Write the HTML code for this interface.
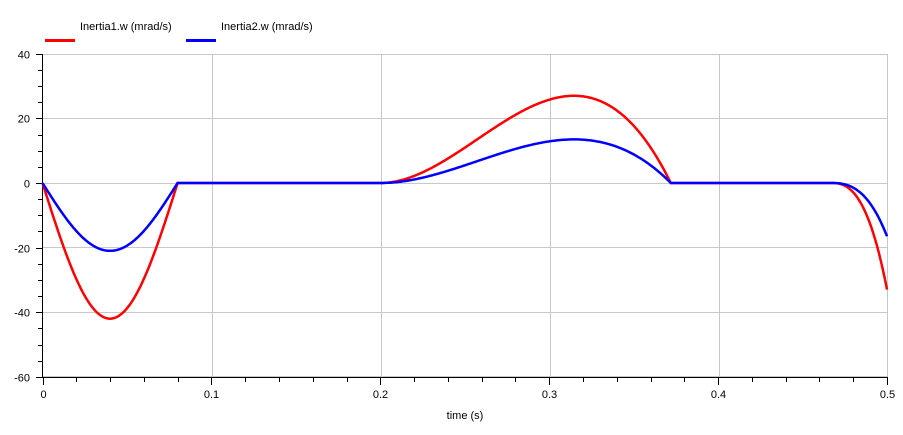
<!DOCTYPE html>
<html><head><meta charset="utf-8"><style>
body{margin:0;background:#fff;width:903px;height:430px;overflow:hidden}
text{font-family:"Liberation Sans","Noto Sans CJK JP",sans-serif;font-size:11px;fill:#000}
</style></head><body>
<svg id="s" width="903" height="430" xmlns="http://www.w3.org/2000/svg">
<g stroke="#c8c8c8" stroke-width="1">
<line x1="43" y1="54.5" x2="887" y2="54.5"/><line x1="43" y1="118.5" x2="887" y2="118.5"/><line x1="43" y1="183.5" x2="887" y2="183.5"/><line x1="43" y1="247.5" x2="887" y2="247.5"/><line x1="43" y1="312.5" x2="887" y2="312.5"/><line x1="43" y1="376.5" x2="887" y2="376.5"/>
<line x1="212.5" y1="54" x2="212.5" y2="377"/><line x1="381.5" y1="54" x2="381.5" y2="377"/><line x1="550.5" y1="54" x2="550.5" y2="377"/><line x1="719.5" y1="54" x2="719.5" y2="377"/><line x1="887.5" y1="54" x2="887.5" y2="377"/>
</g>
<g id="ax" stroke="#000" stroke-width="1"></g>
<g id="lbl"></g>
<line x1="45" y1="40.5" x2="75" y2="40.5" stroke="#f00" stroke-width="3"/>
<line x1="186" y1="40.5" x2="216" y2="40.5" stroke="#00f" stroke-width="3"/>
<text x="80" y="30">Inertia1.w (mrad/s)</text>
<text x="221" y="30">Inertia2.w (mrad/s)</text>
<text x="465" y="419" text-anchor="middle" font-size="12">time (s)</text>
<path id="r" fill="none" stroke="#f00" stroke-width="2.5"/>
<path id="b" fill="none" stroke="#00f" stroke-width="2.5"/>
</svg>
<script>
var X=t=>42.5+t*1689,Y=v=>183-v*3.23;
var ax=document.getElementById('ax'),lb=document.getElementById('lbl'),h='',l='';
h+='<line x1="42.5" y1="54" x2="42.5" y2="377"/><line x1="42" y1="377.5" x2="888" y2="377.5"/>';
for(var v=-60;v<=40;v+=5){var y=Math.round(Y(v))+0.5;h+='<line x1="'+(v%20==0?36:38)+'" y1="'+y+'" x2="42" y2="'+y+'"/>';if(v%20==0)l+='<text x="30" y="'+(y+4)+'" text-anchor="end">'+v+'</text>';}
for(var i=0;i<=25;i++){var x=Math.round(X(i*0.02))+0.5;h+='<line x1="'+x+'" y1="378" x2="'+x+'" y2="'+(i%5==0?385:382)+'"/>';if(i%5==0)l+='<text x="'+x+'" y="398" text-anchor="middle">'+(i==0?'0':i==25?'0.5':(i*0.02).toFixed(1))+'</text>';}
ax.innerHTML=h;lb.innerHTML=l;
function f(t,k){if(t<0.08)return -42*k*Math.sin(Math.PI*t/0.08);
if(t<0.2)return 0;if(t<0.372){var u=(t-0.2)/0.172;return 182.25*k*u*u*(1-u);}
if(t<0.468)return 0;var u=(t-0.468)/0.032;return -33*k*u*u*(0.4+0.6*u);}
function p(k){var d='';for(var i=0;i<=1000;i++){var t=i*0.0005;d+=(i?'L':'M')+X(t).toFixed(1)+' '+Y(f(t,k)).toFixed(1);}return d;}
document.getElementById('r').setAttribute('d',p(1));
document.getElementById('b').setAttribute('d',p(0.5));
</script>
</body></html>
